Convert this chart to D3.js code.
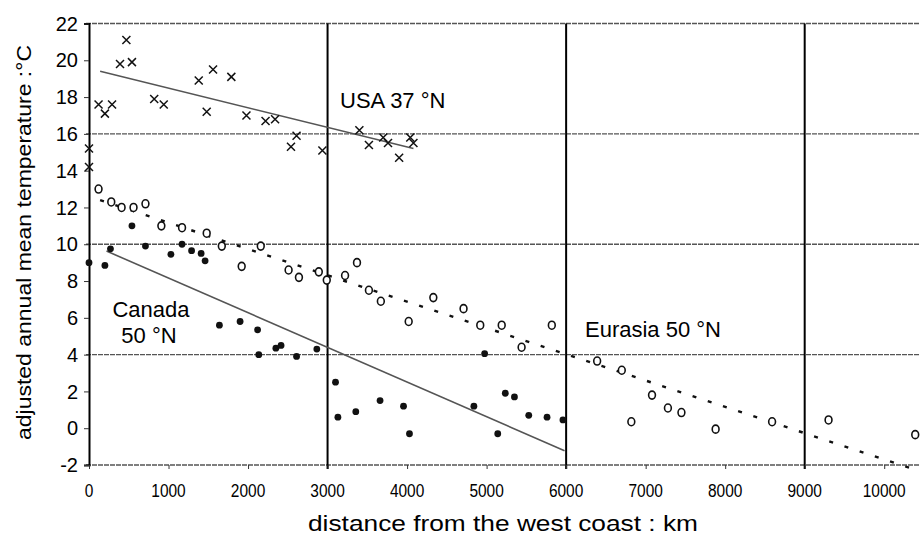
<!DOCTYPE html>
<html lang="en">
<head>
  <meta charset="UTF-8">
  <title>temperature vs distance</title>
  <style>
    body { margin: 0; background: #fff; }
    text { font-family: "Liberation Sans", Arial, sans-serif; fill: #000; }
  </style>
</head>
<body>
  <script src="https://d3js.org/d3.v7.min.js"></script>
  <script>
    // USA 37 N (crosses)
    const usaX = [0, 0, 120, 200, 290, 390, 470, 540, 820, 940, 1380, 1480, 1560, 1790, 1980, 2220, 2340, 2540, 2610, 2935, 3400, 3520, 3700, 3760, 3900, 4040, 4080];
    const usaY = [15.2, 14.2, 17.6, 17.1, 17.6, 19.8, 21.1, 19.9, 17.9, 17.6, 18.9, 17.2, 19.5, 19.1, 17.0, 16.7, 16.8, 15.3, 15.9, 15.1, 16.2, 15.4, 15.8, 15.5, 14.7, 15.8, 15.5];

    // Canada 50 N (filled dots)
    const canadaX = [0, 200, 270, 540, 710, 1030, 1170, 1290, 1410, 1460, 1640, 1900, 2120, 2135, 2350, 2415, 2610, 2865, 3100, 3130, 3355, 3660, 3955, 4030, 4840, 4975, 5140, 5235, 5350, 5530, 5760, 5960];
    const canadaY = [9.0, 8.85, 9.75, 11.0, 9.9, 9.45, 10.0, 9.65, 9.5, 9.1, 5.6, 5.8, 5.35, 4.0, 4.35, 4.5, 3.9, 4.3, 2.5, 0.6, 0.9, 1.5, 1.2, -0.3, 1.2, 4.05, -0.3, 1.9, 1.7, 0.7, 0.6, 0.45];

    // Eurasia 50 N (open circles)
    const eurasiaX = [120, 280, 410, 560, 710, 910, 1170, 1480, 1670, 1920, 2160, 2510, 2640, 2890, 2990, 3220, 3370, 3520, 3670, 4020, 4330, 4710, 4920, 5190, 5440, 5820, 6390, 6700, 6820, 7080, 7280, 7450, 7880, 8590, 9300, 10390];
    const eurasiaY = [13.0, 12.3, 12.0, 12.0, 12.2, 11.0, 10.9, 10.6, 9.9, 8.8, 9.9, 8.6, 8.2, 8.5, 8.05, 8.3, 9.0, 7.5, 6.9, 5.8, 7.1, 6.5, 5.6, 5.6, 4.4, 5.6, 3.65, 3.15, 0.35, 1.8, 1.1, 0.85, -0.05, 0.35, 0.45, -0.35];

    // regression lines (start and end)
    const usaFit = [[140, 19.4], [4080, 15.2]];
    const canadaFit = [[220, 9.63], [5980, -1.22]];
    const eurasiaFit = [[140, 12.4], [10350, -2.2]];

    const yTicks = [-2, 0, 2, 4, 6, 8, 10, 12, 14, 16, 18, 20, 22];
    const xTicks = [0, 1000, 2000, 3000, 4000, 5000, 6000, 7000, 8000, 9000, 10000];
    const gridY = [-2, 4, 10, 16, 22];
    const gridX = [3000, 6000, 9000];

    const width = 920;
    const height = 535;

    const svg = d3.select("body").append("svg").attr("width", width).attr("height", height);

    const xScale = d3.scaleLinear().domain([0, 10450]).range([89, 920]);
    const yScale = d3.scaleLinear().domain([-2, 22]).range([465, 23.5]);

    // horizontal grid lines
    svg.selectAll(".gy")
    .data(gridY)
    .enter()
    .append("line")
    .attr("x1", xScale(0) - 3)
    .attr("x2", width)
    .attr("y1", function(d) { return yScale(d); })
    .attr("y2", function(d) { return yScale(d); })
    .attr("stroke", "#555")
    .attr("stroke-width", 1.3)
    .attr("stroke-dasharray", "5,1");

    // vertical lines
    svg.selectAll(".gx")
    .data(gridX)
    .enter()
    .append("line")
    .attr("x1", function(d) { return xScale(d); })
    .attr("x2", function(d) { return xScale(d); })
    .attr("y1", yScale(22))
    .attr("y2", yScale(-2) + 4)
    .attr("stroke", "#000")
    .attr("stroke-width", 2);

    // y axis
    const axisY = d3.axisLeft(yScale).tickValues(yTicks).tickSize(5).tickFormat("");
    const gY = svg.append("g")
    .attr("transform", "translate(" + xScale(0) + ",0)")
    .call(axisY);
    gY.select(".domain").attr("stroke", "#000").attr("stroke-width", 2);
    gY.selectAll(".tick line").attr("stroke", "#333");

    svg.selectAll(".ylab")
    .data(yTicks)
    .enter()
    .append("text")
    .attr("x", 78)
    .attr("y", function(d) { return yScale(d); })
    .attr("dy", "0.36em")
    .attr("text-anchor", "end")
    .style("font-size", "20px")
    .text(function(d) { return d; });

    // x axis
    const axisX = d3.axisBottom(xScale).tickValues(xTicks).tickSize(4).tickFormat("");
    const gX = svg.append("g")
    .attr("transform", "translate(0," + yScale(-2) + ")")
    .call(axisX);
    gX.select(".domain").remove();
    gX.selectAll(".tick line").attr("stroke", "#333");

    svg.selectAll(".xlab")
    .data(xTicks)
    .enter()
    .append("text")
    .attr("x", function(d) { return xScale(d); })
    .attr("y", 497)
    .attr("text-anchor", "middle")
    .attr("textLength", function(d) { return String(d).length * 8.6; })
    .attr("lengthAdjust", "spacingAndGlyphs")
    .style("font-size", "18px")
    .text(function(d) { return d; });

    // axis titles
    svg.append("text")
    .attr("x", 308)
    .attr("y", 531)
    .attr("textLength", 390)
    .attr("lengthAdjust", "spacingAndGlyphs")
    .style("font-size", "22px")
    .text("distance from the west coast : km");

    svg.append("text")
    .attr("transform", "translate(31,440) rotate(-90)")
    .attr("textLength", 395)
    .attr("lengthAdjust", "spacingAndGlyphs")
    .style("font-size", "20px")
    .text("adjusted annual mean temperature :°C");

    // regression lines
    const line = d3.line()
    .x(function(d) { return xScale(d[0]); })
    .y(function(d) { return yScale(d[1]); });

    svg.append("path").datum(usaFit).attr("d", line)
    .attr("fill", "none").attr("stroke", "#555").attr("stroke-width", 1.6);
    svg.append("path").datum(canadaFit).attr("d", line)
    .attr("fill", "none").attr("stroke", "#555").attr("stroke-width", 1.6);
    svg.append("path").datum(eurasiaFit).attr("d", line)
    .attr("fill", "none").attr("stroke", "#111").attr("stroke-width", 2.4)
    .attr("stroke-dasharray", "4,12");

    // crosses
    const usa = d3.zip(usaX, usaY);
    svg.selectAll(".cross")
    .data(usa)
    .enter()
    .append("path")
    .attr("d", function(d) {
      const x = xScale(d[0]), y = yScale(d[1]), r = 4;
      return "M" + (x - r) + "," + (y - r) + "L" + (x + r) + "," + (y + r) +
             "M" + (x - r) + "," + (y + r) + "L" + (x + r) + "," + (y - r);
    })
    .attr("stroke", "#111")
    .attr("stroke-width", 1.5)
    .attr("fill", "none");

    // open circles
    const eurasia = d3.zip(eurasiaX, eurasiaY);
    svg.selectAll(".open")
    .data(eurasia)
    .enter()
    .append("ellipse")
    .attr("cx", function(d) { return xScale(d[0]); })
    .attr("cy", function(d) { return yScale(d[1]); })
    .attr("rx", 3.4)
    .attr("ry", 4)
    .attr("fill", "#fff")
    .attr("stroke", "#111")
    .attr("stroke-width", 1.6);

    // filled dots
    const canada = d3.zip(canadaX, canadaY);
    svg.selectAll(".dot")
    .data(canada)
    .enter()
    .append("circle")
    .attr("cx", function(d) { return xScale(d[0]); })
    .attr("cy", function(d) { return yScale(d[1]); })
    .attr("r", 3.4)
    .attr("fill", "#111");

    // labels
    svg.append("text").attr("x", 340).attr("y", 108)
    .style("font-size", "22px").text("USA 37 °N");
    svg.append("text").attr("x", 151).attr("y", 317).attr("text-anchor", "middle")
    .style("font-size", "22px").text("Canada");
    svg.append("text").attr("x", 149).attr("y", 343).attr("text-anchor", "middle")
    .style("font-size", "22px").text("50 °N");
    svg.append("text").attr("x", 585).attr("y", 337)
    .style("font-size", "22px").text("Eurasia 50 °N");
  </script>
</body>
</html>
